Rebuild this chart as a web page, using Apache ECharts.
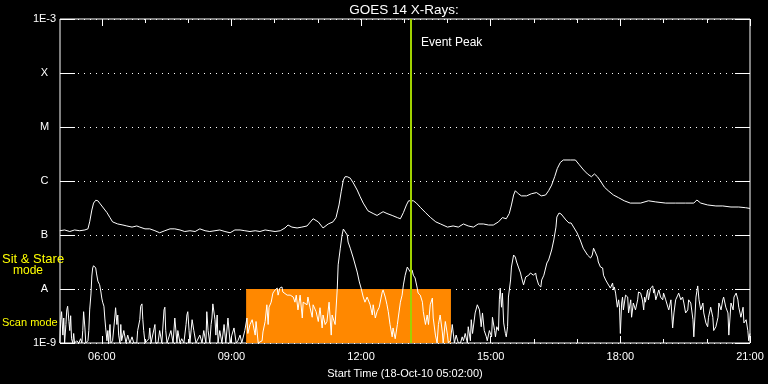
<!DOCTYPE html>
<html><head><meta charset="utf-8">
<script src="https://cdn.jsdelivr.net/npm/echarts@6/dist/echarts.min.js"></script>
<style>html,body{margin:0;padding:0;background:#000}#c{width:768px;height:384px}</style>
</head><body><div id="c"></div>
<script>
// ---- data (time in decimal hours UT, flux in W/m^2) ----
const longChannel = [[5.03,1.2e-7],[5.14,1.24e-7],[5.26,1.16e-7],[5.37,1.24e-7],[5.49,1.2e-7],[5.61,1.24e-7],[5.68,1.3e-7],[5.72,1.75e-7],[5.77,2.9e-7],[5.81,3.9e-7],[5.86,4.4e-7],[5.91,4.3e-7],[5.95,3.9e-7],[6.02,3.3e-7],[6.12,2.6e-7],[6.19,2.1e-7],[6.25,1.75e-7],[6.37,1.6e-7],[6.49,1.53e-7],[6.58,1.47e-7],[6.70,1.4e-7],[6.81,1.47e-7],[6.88,1.4e-7],[7.00,1.3e-7],[7.11,1.3e-7],[7.23,1.2e-7],[7.34,1.1e-7],[7.46,1.2e-7],[7.58,1.3e-7],[7.69,1.3e-7],[7.81,1.24e-7],[7.92,1.16e-7],[8.04,1.2e-7],[8.16,1.16e-7],[8.27,1.3e-7],[8.39,1.2e-7],[8.50,1.16e-7],[8.62,1.2e-7],[8.73,1.24e-7],[8.85,1.16e-7],[8.97,1.1e-7],[9.08,1.24e-7],[9.20,1.24e-7],[9.31,1.2e-7],[9.43,1.16e-7],[9.55,1.2e-7],[9.66,1.16e-7],[9.78,1.24e-7],[9.89,1.2e-7],[10.01,1.16e-7],[10.13,1.2e-7],[10.24,1.35e-7],[10.31,1.53e-7],[10.40,1.4e-7],[10.52,1.35e-7],[10.63,1.4e-7],[10.75,1.47e-7],[10.89,2.0e-7],[11.01,1.75e-7],[11.12,1.35e-7],[11.24,1.6e-7],[11.35,1.75e-7],[11.42,2.1e-7],[11.49,3.6e-7],[11.54,6.3e-7],[11.59,1.04e-6],[11.63,1.2e-6],[11.68,1.2e-6],[11.75,1.13e-6],[11.82,9.2e-7],[11.91,6.8e-7],[11.98,5.1e-7],[12.05,3.9e-7],[12.16,2.8e-7],[12.28,2.5e-7],[12.37,2.3e-7],[12.44,2.5e-7],[12.51,2.7e-7],[12.60,2.5e-7],[12.72,2.3e-7],[12.84,2.1e-7],[12.91,2.0e-7],[12.98,2.6e-7],[13.05,3.6e-7],[13.10,4.3e-7],[13.21,4.3e-7],[13.28,3.9e-7],[13.38,3.2e-7],[13.49,2.6e-7],[13.61,2.1e-7],[13.73,1.75e-7],[13.84,1.6e-7],[14.00,1.4e-7],[14.13,1.47e-7],[14.25,1.4e-7],[14.37,1.6e-7],[14.48,1.47e-7],[14.60,1.4e-7],[14.71,1.6e-7],[14.83,1.6e-7],[14.95,1.53e-7],[15.06,1.53e-7],[15.18,1.75e-7],[15.27,2.1e-7],[15.36,2.0e-7],[15.43,2.5e-7],[15.48,3.6e-7],[15.53,5.5e-7],[15.57,6.6e-7],[15.64,5.8e-7],[15.71,5.3e-7],[15.83,5.3e-7],[15.94,5.8e-7],[16.06,6.1e-7],[16.17,5.3e-7],[16.27,5.5e-7],[16.34,6.6e-7],[16.41,8.4e-7],[16.48,1.2e-6],[16.54,1.7e-6],[16.61,2.2e-6],[16.68,2.45e-6],[16.85,2.45e-6],[16.96,2.45e-6],[17.05,2.0e-6],[17.15,1.6e-6],[17.24,1.35e-6],[17.33,1.2e-6],[17.40,1.35e-6],[17.47,1.2e-6],[17.54,1.0e-6],[17.63,7.7e-7],[17.72,6.6e-7],[17.84,5.5e-7],[17.96,4.9e-7],[18.09,4.3e-7],[18.23,3.9e-7],[18.47,3.9e-7],[18.65,4.3e-7],[18.82,4.1e-7],[19.05,3.9e-7],[19.28,3.9e-7],[19.51,3.9e-7],[19.70,3.9e-7],[19.77,4.45e-7],[19.86,3.9e-7],[20.02,3.6e-7],[20.21,3.45e-7],[20.37,3.45e-7],[20.56,3.3e-7],[20.74,3.3e-7],[20.90,3.2e-7],[21.00,3.1e-7]];

const shortChannel = [[5.03,1.0e-9],[5.05,2.7e-9],[5.07,3.8e-9],[5.10,1.4e-9],[5.12,2.9e-9],[5.14,1.0e-9],[5.17,2.2e-9],[5.19,4.1e-9],[5.21,4.8e-9],[5.24,2.5e-9],[5.26,1.7e-9],[5.28,3.2e-9],[5.30,1.2e-9],[5.33,1.0e-9],[5.35,1.5e-9],[5.37,1.0e-9],[5.42,1.1e-9],[5.47,1.0e-9],[5.51,1.2e-9],[5.54,1.0e-9],[5.56,1.7e-9],[5.58,3.8e-9],[5.61,1.9e-9],[5.63,1.0e-9],[5.68,1.1e-9],[5.70,1.7e-9],[5.72,4.1e-9],[5.75,8.1e-9],[5.77,1.74e-8],[5.79,2.45e-8],[5.81,2.7e-8],[5.84,2.7e-8],[5.86,2.45e-8],[5.88,1.9e-8],[5.91,1.4e-8],[5.93,1.3e-8],[5.95,1.2e-8],[5.98,8.8e-9],[6.00,6.8e-9],[6.02,5.7e-9],[6.05,4.8e-9],[6.07,2.9e-9],[6.09,1.9e-9],[6.12,1.1e-9],[6.14,1.7e-9],[6.16,1.0e-9],[6.19,2.2e-9],[6.21,1.0e-9],[6.25,1.1e-9],[6.30,2.9e-9],[6.32,4.5e-9],[6.35,2.2e-9],[6.37,3.3e-9],[6.39,1.4e-9],[6.42,1.0e-9],[6.44,2.2e-9],[6.46,1.1e-9],[6.51,1.7e-9],[6.56,1.0e-9],[6.60,1.4e-9],[6.65,1.0e-9],[6.70,1.3e-9],[6.74,1.0e-9],[6.81,1.0e-9],[6.83,1.7e-9],[6.88,2.7e-9],[6.90,4.8e-9],[6.93,5.3e-9],[6.95,2.7e-9],[6.97,1.7e-9],[7.00,1.0e-9],[7.04,1.0e-9],[7.09,1.2e-9],[7.11,1.9e-9],[7.14,1.0e-9],[7.18,1.0e-9],[7.23,2.2e-9],[7.25,1.0e-9],[7.30,1.0e-9],[7.34,1.7e-9],[7.39,1.0e-9],[7.44,4.1e-9],[7.46,4.6e-9],[7.48,1.7e-9],[7.51,1.0e-9],[7.55,1.0e-9],[7.60,1.7e-9],[7.65,1.0e-9],[7.69,2.9e-9],[7.74,1.0e-9],[7.76,1.7e-9],[7.81,1.0e-9],[7.85,1.2e-9],[7.90,1.0e-9],[7.95,2.2e-9],[7.97,3.3e-9],[7.99,3.8e-9],[8.02,1.7e-9],[8.04,1.0e-9],[8.09,2.7e-9],[8.13,1.7e-9],[8.18,1.0e-9],[8.22,1.0e-9],[8.27,1.4e-9],[8.32,1.0e-9],[8.36,1.7e-9],[8.41,1.0e-9],[8.43,3.8e-9],[8.46,1.7e-9],[8.50,1.0e-9],[8.53,2.2e-9],[8.55,2.9e-9],[8.57,5.3e-9],[8.60,5.7e-9],[8.62,2.7e-9],[8.64,1.4e-9],[8.67,3.3e-9],[8.69,1.0e-9],[8.73,1.7e-9],[8.78,1.0e-9],[8.83,2.2e-9],[8.87,1.0e-9],[8.92,2.9e-9],[8.97,1.0e-9],[9.01,1.4e-9],[9.06,1.9e-9],[9.11,1.0e-9],[9.15,1.1e-9],[9.20,1.4e-9],[9.24,1.0e-9],[9.31,1.7e-9],[9.36,2.9e-9],[9.38,1.5e-9],[9.43,2.2e-9],[9.48,2.7e-9],[9.50,2.5e-9],[9.55,1.4e-9],[9.57,2.5e-9],[9.62,1.0e-9],[9.66,1.0e-9],[9.71,1.1e-9],[9.73,1.6e-9],[9.78,2.5e-9],[9.82,5.1e-9],[9.85,2.2e-9],[9.87,4.6e-9],[9.92,5.7e-9],[9.96,8.4e-9],[10.01,9.6e-9],[10.06,1.04e-8],[10.08,7.7e-9],[10.12,1.04e-8],[10.17,1.09e-8],[10.19,8.8e-9],[10.29,7.7e-9],[10.36,7.7e-9],[10.43,7.1e-9],[10.47,5.7e-9],[10.50,7.7e-9],[10.54,4.1e-9],[10.59,7.7e-9],[10.64,2.9e-9],[10.66,5.7e-9],[10.75,5.1e-9],[10.77,7.1e-9],[10.82,4.5e-9],[10.87,3.0e-9],[10.89,5.1e-9],[10.96,3.8e-9],[11.01,2.5e-9],[11.05,4.5e-9],[11.10,1.9e-9],[11.12,3.3e-9],[11.17,2.2e-9],[11.21,2.5e-9],[11.26,5.7e-9],[11.31,1.4e-9],[11.33,3.3e-9],[11.40,2.2e-9],[11.45,1.04e-8],[11.47,2.8e-8],[11.52,5.7e-8],[11.56,1.0e-7],[11.59,1.29e-7],[11.63,1.24e-7],[11.68,1.0e-7],[11.70,7.4e-8],[11.75,5.7e-8],[11.82,3.75e-8],[11.91,2.06e-8],[11.96,1.35e-8],[12.00,1.04e-8],[12.05,7.1e-9],[12.09,5.7e-9],[12.14,7.1e-9],[12.21,5.1e-9],[12.26,3.3e-9],[12.28,5.1e-9],[12.33,2.9e-9],[12.37,3.8e-9],[12.42,4.6e-9],[12.49,8.8e-9],[12.51,9.6e-9],[12.56,7.1e-9],[12.60,5.1e-9],[12.63,3.8e-9],[12.67,2.2e-9],[12.72,1.3e-9],[12.74,1.9e-9],[12.79,1.2e-9],[12.84,2.2e-9],[12.86,2.9e-9],[12.91,5.7e-9],[12.95,7.7e-9],[12.98,1.19e-8],[13.02,1.8e-8],[13.07,2.55e-8],[13.09,2.45e-8],[13.14,2.06e-8],[13.18,2.25e-8],[13.21,1.8e-8],[13.25,1.6e-8],[13.30,1.04e-8],[13.32,8.4e-9],[13.37,7.7e-9],[13.42,5.7e-9],[13.44,3.8e-9],[13.49,2.2e-9],[13.53,3.3e-9],[13.56,2.2e-9],[13.60,5.1e-9],[13.65,6.8e-9],[13.67,2.9e-9],[13.72,1.4e-9],[13.76,1.0e-9],[13.79,2.2e-9],[13.83,3.3e-9],[13.88,1.6e-9],[13.90,1.0e-9],[13.95,2.5e-9],[14.00,1.4e-9],[14.02,1.0e-9],[14.07,1.1e-9],[14.11,2.2e-9],[14.16,1.0e-9],[14.20,1.4e-9],[14.25,1.0e-9],[14.30,1.0e-9],[14.34,1.3e-9],[14.37,1.1e-9],[14.41,1.5e-9],[14.46,1.0e-9],[14.48,2.0e-9],[14.53,1.1e-9],[14.55,2.7e-9],[14.58,1.5e-9],[14.64,3.6e-9],[14.69,5.1e-9],[14.74,4.1e-9],[14.78,2.0e-9],[14.81,3.6e-9],[14.85,1.7e-9],[14.90,1.3e-9],[14.92,1.1e-9],[14.97,1.7e-9],[15.02,1.3e-9],[15.04,3.0e-9],[15.09,1.7e-9],[15.11,1.3e-9],[15.14,2.0e-9],[15.18,1.7e-9],[15.20,6.3e-9],[15.22,1.04e-8],[15.25,4.6e-9],[15.27,8.4e-9],[15.30,2.35e-9],[15.34,1.5e-9],[15.36,1.3e-9],[15.39,2.0e-9],[15.41,7.1e-9],[15.46,1.47e-8],[15.48,2.55e-8],[15.53,4.26e-8],[15.57,3.9e-8],[15.60,3.16e-8],[15.64,2.55e-8],[15.69,1.98e-8],[15.71,1.67e-8],[15.76,1.19e-8],[15.81,1.67e-8],[15.83,1.6e-8],[15.88,1.8e-8],[15.92,1.98e-8],[15.95,2.06e-8],[15.99,1.8e-8],[16.04,1.98e-8],[16.06,1.6e-8],[16.11,1.19e-8],[16.16,1.09e-8],[16.18,1.47e-8],[16.23,1.8e-8],[16.30,3.03e-8],[16.34,3.44e-8],[16.41,5.27e-8],[16.46,8.1e-8],[16.51,1.4e-7],[16.53,2.15e-7],[16.58,2.55e-7],[16.63,2.45e-7],[16.65,2.35e-7],[16.74,1.9e-7],[16.81,1.67e-7],[16.86,1.67e-7],[16.93,1.35e-7],[17.00,1.09e-7],[17.07,8.1e-8],[17.14,5.7e-8],[17.24,4.26e-8],[17.31,3.75e-8],[17.35,4.26e-8],[17.38,5.7e-8],[17.42,5.27e-8],[17.47,3.9e-8],[17.49,3.16e-8],[17.54,2.55e-8],[17.59,2.45e-8],[17.61,1.8e-8],[17.66,1.47e-8],[17.70,1.29e-8],[17.73,1.19e-8],[17.77,1.04e-8],[17.82,1.29e-8],[17.84,9.6e-9],[17.86,1.09e-8],[17.89,8.4e-9],[17.93,4.6e-9],[17.96,6.3e-9],[17.98,4.6e-9],[18.00,1.5e-9],[18.03,5.5e-9],[18.05,7.1e-9],[18.07,4.1e-9],[18.12,7.7e-9],[18.17,7.1e-9],[18.19,3.6e-9],[18.24,6.3e-9],[18.26,3.0e-9],[18.30,5.5e-9],[18.35,4.1e-9],[18.40,6.3e-9],[18.42,8.8e-9],[18.47,8.4e-9],[18.51,6.3e-9],[18.54,4.1e-9],[18.56,7.1e-9],[18.58,5.7e-9],[18.63,9.6e-9],[18.65,6.3e-9],[18.70,1.04e-8],[18.75,1.14e-8],[18.77,8.4e-9],[18.79,9.6e-9],[18.82,6.3e-9],[18.86,6.3e-9],[18.89,9.6e-9],[18.93,7.1e-9],[18.98,6.3e-9],[19.00,8.4e-9],[19.05,6.3e-9],[19.10,4.6e-9],[19.12,4.1e-9],[19.17,6.3e-9],[19.21,1.9e-9],[19.24,3.6e-9],[19.28,6.3e-9],[19.33,7.7e-9],[19.35,8.4e-9],[19.40,6.3e-9],[19.44,7.1e-9],[19.47,5.5e-9],[19.51,3.6e-9],[19.56,4.1e-9],[19.58,6.3e-9],[19.63,5.5e-9],[19.68,2.7e-9],[19.70,1.3e-9],[19.75,7.1e-9],[19.79,1.14e-8],[19.82,6.3e-9],[19.86,4.1e-9],[19.91,5.5e-9],[19.93,3.6e-9],[19.98,2.35e-9],[20.02,2.0e-9],[20.04,3.0e-9],[20.09,4.6e-9],[20.14,3.0e-9],[20.16,1.7e-9],[20.21,2.0e-9],[20.26,3.0e-9],[20.28,5.5e-9],[20.33,4.1e-9],[20.37,6.3e-9],[20.39,7.1e-9],[20.44,4.6e-9],[20.49,3.6e-9],[20.51,1.4e-9],[20.56,5.5e-9],[20.61,4.1e-9],[20.63,7.1e-9],[20.68,8.4e-9],[20.72,6.3e-9],[20.74,4.6e-9],[20.79,3.0e-9],[20.84,4.6e-9],[20.86,2.35e-9],[20.91,2.7e-9],[20.95,1.7e-9],[20.97,1.1e-9],[21.00,1.5e-9]];

const xMajorHours = [6, 9, 12, 15, 18, 21];
const xTickLabels = ['06:00', '09:00', '12:00', '15:00', '18:00', '21:00'];
const xMinorHours = [6, 7, 8, 9, 10, 11, 12, 13, 14, 15, 16, 17, 18, 19, 20, 21];
const yTickValues = [1e-9, 1e-8, 1e-7, 1e-6, 1e-5, 1e-4, 1e-3];
const yTickLabels = ['1E-9', 'A', 'B', 'C', 'M', 'X', '1E-3'];
const startTime = 5 + 2 / 60;   // 05:02
const endTime = 21;
const sitStareWindow = [9.34, 14.08];
const sitStareFlux = [1e-9, 1e-8];
const eventPeakTime = 13.16;

const FONT = 'Liberation Sans';
const chart = echarts.init(document.getElementById('c'), null, { renderer: 'canvas' });

function yLabel(v) {
  const e = Math.round(Math.log10(v));
  const i = yTickValues.findIndex(t => Math.round(Math.log10(t)) === e);
  return i >= 0 ? yTickLabels[i] : '';
}
function xLabel(v) {
  const i = xMajorHours.indexOf(Math.round(v));
  return i >= 0 ? xTickLabels[i] : '';
}
function xAxisDef(pos, ticks, len, showLabel, name) {
  return {
    type: 'value', position: pos, min: startTime, max: endTime,
    axisLine: { show: false, onZero: false },
    splitLine: { show: false },
    axisTick: { show: true, inside: true, length: len, customValues: ticks, lineStyle: { color: '#fff', width: 1 } },
    axisLabel: showLabel ? { show: true, customValues: xMajorHours, formatter: xLabel, color: '#fff', fontFamily: FONT, fontSize: 11, margin: 8 } : { show: false },
    name: name || '', nameLocation: 'middle', nameGap: 25,
    nameTextStyle: { color: '#fff', fontFamily: FONT, fontSize: 11 }
  };
}
function yAxisDef(pos, showLabel, split) {
  return {
    type: 'log', logBase: 10, position: pos, min: 1e-9, max: 1e-3, interval: 1,
    axisLine: { show: false },
    axisTick: { show: true, inside: true, length: 15, lineStyle: { color: '#fff', width: 1 } },
    axisLabel: showLabel ? { show: true, formatter: yLabel, color: '#fff', fontFamily: FONT, fontSize: 11, align: 'center', margin: 15.5 } : { show: false },
    splitLine: split ? { show: true, lineStyle: { color: '#fff', width: 1, type: [1, 5] } } : { show: false }
  };
}

chart.setOption({
  backgroundColor: '#000',
  animation: false,
  grid: { left: 60, right: 18, top: 19, bottom: 41, show: true, borderColor: '#fff', borderWidth: 1, backgroundColor: 'transparent' },
  xAxis: [
    xAxisDef('bottom', xMajorHours, 7, true, 'Start Time (18-Oct-10 05:02:00)'),
    xAxisDef('bottom', xMinorHours, 4, false),
    xAxisDef('top', xMajorHours, 7, false),
    xAxisDef('top', xMinorHours, 4, false)
  ],
  yAxis: [yAxisDef('left', true, true), yAxisDef('right', false, false)],
  series: [
    {
      type: 'line', data: [], z: 1, silent: true,
      markArea: {
        silent: true,
        itemStyle: { color: '#ff8800', opacity: 1 },
        data: [[{ xAxis: sitStareWindow[0], yAxis: sitStareFlux[0] }, { xAxis: sitStareWindow[1], yAxis: sitStareFlux[1] }]]
      }
    },
    {
      type: 'line', data: shortChannel, z: 3, showSymbol: false, silent: true,
      lineStyle: { color: '#fff', width: 1 }, clip: true
    },
    {
      type: 'line', data: longChannel, z: 3, showSymbol: false, silent: true,
      lineStyle: { color: '#fff', width: 1 }, clip: true
    },
    {
      type: 'line', data: [], z: 5, silent: true,
      markLine: {
        silent: true, symbol: ['none', 'none'], label: { show: false },
        lineStyle: { color: '#a0d200', width: 2, type: 'solid' },
        data: [{ xAxis: eventPeakTime }]
      }
    }
  ],
  graphic: [
    { type: 'text', x: 404, y: 10, style: { text: 'GOES 14 X-Rays:', fill: '#fff', font: '13.5px "' + FONT + '"', textAlign: 'center', textVerticalAlign: 'middle' } },
    { type: 'text', x: 421, y: 43, style: { text: 'Event Peak', fill: '#fff', font: '12px "' + FONT + '"', textAlign: 'left', textVerticalAlign: 'middle' } },
    { type: 'text', x: 2, y: 259, style: { text: 'Sit & Stare', fill: '#ffff00', font: '13px "' + FONT + '"', textAlign: 'left', textVerticalAlign: 'middle' } },
    { type: 'text', x: 13, y: 271, style: { text: 'mode', fill: '#ffff00', font: '12px "' + FONT + '"', textAlign: 'left', textVerticalAlign: 'middle' } },
    { type: 'text', x: 2, y: 323, style: { text: 'Scan mode', fill: '#ffff00', font: '11px "' + FONT + '"', textAlign: 'left', textVerticalAlign: 'middle' } }
  ]
});
</script></body></html>
